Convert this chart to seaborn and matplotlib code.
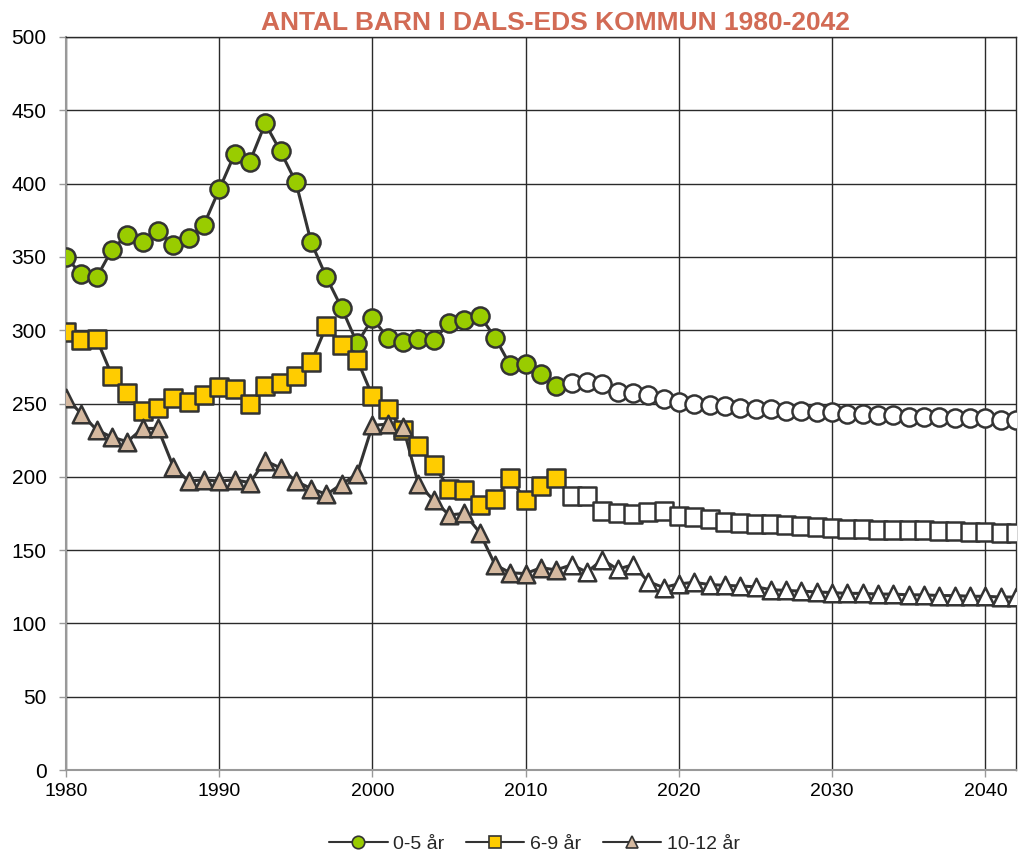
import matplotlib
matplotlib.use("Agg")
import matplotlib.pyplot as plt
from matplotlib.lines import Line2D
import seaborn as sns
import pandas as pd

# utfall t.o.m. 2012, prognos 2013-2042
years = list(range(1980, 2043))
last_actual = 2012

barn_0_5 = [350, 338, 336, 355, 365, 360, 368, 358, 363, 372,
            396, 420, 415, 441, 422, 401, 360, 336, 315, 291,
            308, 295, 292, 294, 293, 305, 307, 310, 295, 276,
            277, 270, 262,
            264, 265, 263, 258, 257, 256, 253, 251, 250, 249,
            248, 247, 246, 246, 245, 245, 244, 244, 243, 243,
            242, 242, 241, 241, 241, 240, 240, 240, 239, 239]

barn_6_9 = [299, 293, 294, 269, 257, 245, 247, 254, 251, 256,
            261, 260, 250, 262, 264, 269, 278, 303, 290, 280,
            255, 246, 232, 221, 208, 192, 191, 181, 185, 199,
            184, 194, 199,
            187, 187, 177, 175.5, 174.5, 176, 177, 173, 172.5, 171.5,
            169, 168.5, 168, 167.5, 167, 166.5, 166, 165, 164.5, 164.5,
            164, 164, 163.5, 163.5, 163, 163, 162.5, 162.5, 162, 162]

barn_10_12 = [254, 243, 232, 227, 224, 233, 233, 207, 197, 198,
              197, 198, 196, 211, 206, 197, 192, 188, 195, 202,
              235, 236, 234, 195, 184, 174, 175, 162, 140, 134.5,
              134, 138, 136.5,
              140, 135, 143.5, 137, 140, 128.5, 124.5, 127, 128, 126.5,
              126, 125.5, 125, 123, 122.5, 122, 121.5, 121, 120.5, 120.5,
              120, 120, 119.5, 119.5, 119, 119, 118.5, 118.5, 118, 118]

series_names = ["0-5 år", "6-9 år", "10-12 år"]
series_values = [barn_0_5, barn_6_9, barn_10_12]
fill_colors = ["#99CC00", "#FFCC00", "#D5B9A0"]
markers = ["o", "s", "^"]
marker_sizes = [170, 160, 160]

EDGE = "#333333"

sns.set_theme(style="white")
plt.rcParams["font.family"] = ["Liberation Sans", "DejaVu Sans"]

fig = plt.figure(figsize=(10.22, 8.52), dpi=100)
ax = fig.add_axes([0.0646, 0.0962, 0.9295, 0.8604])

for name, vals, fc, mk, ms in zip(series_names, series_values, fill_colors, markers, marker_sizes):
    df = pd.DataFrame({"year": years, "antal": vals})
    df["typ"] = ["utfall" if y <= last_actual else "prognos" for y in years]
    sns.lineplot(data=df, x="year", y="antal", color=EDGE, linewidth=2.2,
                 ax=ax, zorder=3, legend=False)
    obs = df[df["typ"] == "utfall"]
    prog = df[df["typ"] == "prognos"]
    sns.scatterplot(data=obs, x="year", y="antal", marker=mk, s=ms, color=fc,
                    edgecolor=EDGE, linewidth=1.8, ax=ax, zorder=4, legend=False)
    sns.scatterplot(data=prog, x="year", y="antal", marker=mk, s=ms, color="white",
                    edgecolor=EDGE, linewidth=1.8, ax=ax, zorder=4, legend=False)

ax.set_xlim(1980, 2042)
ax.set_ylim(0, 500)
ax.set_xticks(range(1980, 2041, 10))
ax.set_yticks(range(0, 501, 50))
ax.grid(True, color="#2a2a2a", linewidth=1.0)
ax.set_axisbelow(True)
ax.set_xlabel("")
ax.set_ylabel("")
ax.tick_params(axis="both", labelsize=14, colors="black", length=5, width=1,
               direction="out", bottom=True, left=True, pad=4)
ax.tick_params(axis="y", pad=9, labelsize=15)
ax.tick_params(axis="both", color="#999999")
for side in ["left", "bottom"]:
    ax.spines[side].set_color("#999999")
    ax.spines[side].set_linewidth(1.5)
for side in ["top", "right"]:
    ax.spines[side].set_color("#2a2a2a")
    ax.spines[side].set_linewidth(1.0)

fig.text(0.543, 0.973, "ANTAL BARN I DALS-EDS KOMMUN 1980-2042", ha="center", va="center",
         fontsize=19, fontweight="bold", color="#D26B55")

handles = [Line2D([0], [0], color=EDGE, linewidth=1.5, marker=mk, markersize=9,
                  markerfacecolor=fc, markeredgecolor=EDGE, markeredgewidth=1.2)
           for fc, mk in zip(fill_colors, markers)]
fig.legend(handles, series_names, loc="center", bbox_to_anchor=(0.523, 0.009),
           ncol=3, frameon=False, fontsize=14, handlelength=3.0, columnspacing=1.1,
           handletextpad=0.3)

fig.savefig("out.png", dpi=100)
